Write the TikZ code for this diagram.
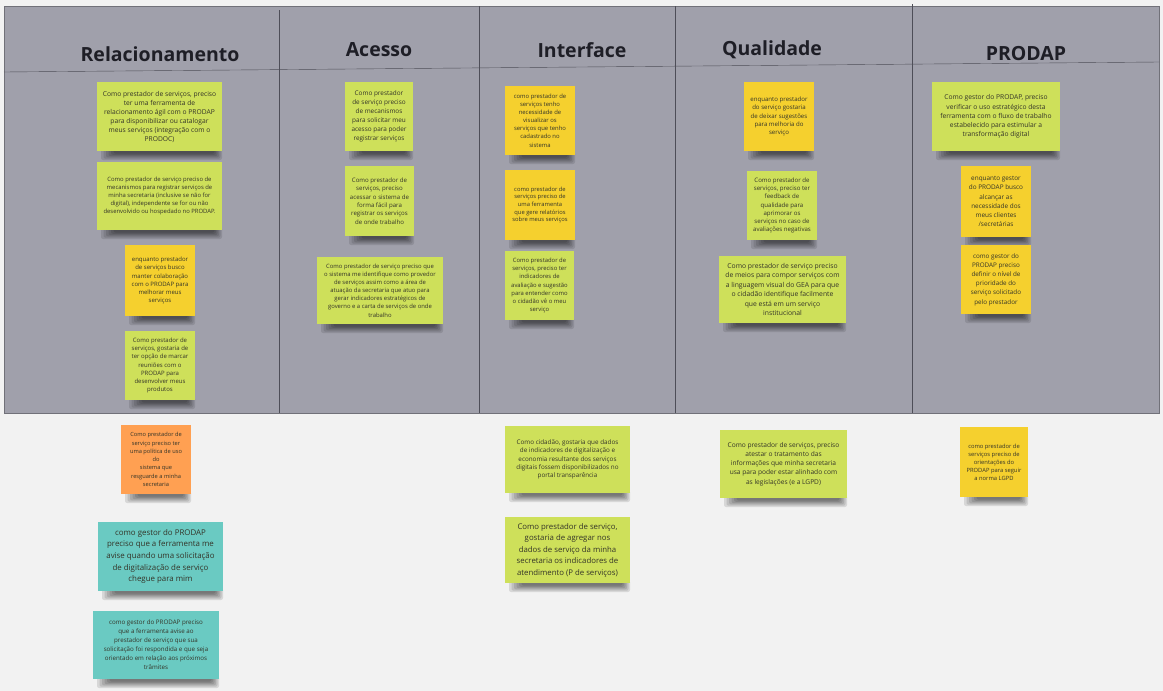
\documentclass[tikz,border=0pt]{standalone}
\usepackage{fontspec}
\setmainfont{Open Sans}
\usepackage{tikz}
\usetikzlibrary{positioning}
\tikzstyle{board} = [x = 1pt, y = -1pt]
\definecolor{boardColor}{RGB}{242,242,242}
\definecolor{panelColor}{RGB}{160,160,171}
\definecolor{gridColor}{RGB}{78,78,88}
\definecolor{titleColor}{RGB}{30,30,38}
\definecolor{noteText}{RGB}{52,52,40}
\definecolor{noteGreen}{RGB}{206,224,90}
\definecolor{noteYellow}{RGB}{245,208,46}
\definecolor{noteOrange}{RGB}{255,160,82}
\definecolor{noteTeal}{RGB}{106,202,194}
\tikzstyle{panelStyle} = [fill=panelColor, draw=gridColor!80, thin]
\tikzstyle{gridLine} = [color=gridColor, thin]
\tikzstyle{columnTitle} = [font=\bfseries\fontsize{19.5}{22}\selectfont, text=titleColor]
\tikzstyle{noteStyle} = [inner sep = 0pt, align = center, text = noteText]
\tikzstyle{shadowStyle} = [fill=black, opacity=0.11]
\newcommand{\stickyShadow}[3]{
  \foreach \s in {0,...,5} {
    \fill [shadowStyle, rounded corners = 2pt] (#1 + 4 + \s * 2.5, #3 - 3) rectangle (#2 - \s * 1.5, #3 + 9 - \s * 1.3);
  }
}
\newcommand{\stickyNote}[9]{
  \stickyShadow{#3}{#5}{#6}
  \node [noteStyle, fill = #2, minimum width = {(#5 - #3) * 1pt}, minimum height = {(#6 - #4) * 1pt}, font = \fontsize{#7}{#8}\selectfont] (#1) at ({(#3 + #5) / 2}, {(#4 + #6) / 2}) {#9};
}
\newcommand{\columnDivider}[2]{\draw [gridLine] (#1, #2) -- (#1, 413);}

\begin{document}
\begin{tikzpicture}[board]
            \useasboundingbox (0,0) rectangle (1163,691);
            \fill [boardColor] (0,0) rectangle (1163,691);
            \filldraw [panelStyle] (4,6) rectangle (1159,413);
            \draw [gridLine] (4,72) -- (1159,62);
            \foreach \x/\top in {279/10, 479/6, 675/6, 912/4} {
              \columnDivider{\x}{\top}
            }

            \node [columnTitle] (titleRelacionamento) at (160,54) {Relacionamento};
            \node [columnTitle] (titleAcesso) at (379,50) {Acesso};
            \node [columnTitle] (titleInterface) at (582,50) {Interface};
            \node [columnTitle] (titleQualidade) at (772,50) {Qualidade};
            \node [columnTitle] (titleProdap) at (1026,54) {PRODAP};

            \stickyNote{relacionamentoA}{noteGreen}{97}{82}{222}{151}{6.7}{9}{Como prestador de serviços, preciso\\ter uma ferramenta de\\relacionamento ágil com o PRODAP\\para disponibilizar ou catalogar\\meus serviços (integração com o\\PRODOC)}
            \stickyNote{relacionamentoB}{noteGreen}{97}{162}{222}{230}{5.9}{8.2}{Como prestador de serviço preciso de\\mecanismos para registrar serviços de\\minha secretaria (inclusive se não for\\digital), independente se for ou não\\desenvolvido ou hospedado no PRODAP.}
            \stickyNote{relacionamentoC}{noteYellow}{125}{245}{195}{316}{6}{8.1}{enquanto prestador\\de serviços busco\\manter colaboração\\com o PRODAP para\\melhorar meus\\serviços}
            \stickyNote{relacionamentoD}{noteGreen}{125}{331}{195}{400}{6}{8.2}{Como prestador de\\serviços, gostaria de\\ter opção de marcar\\reuniões com o\\PRODAP para\\desenvolver meus\\produtos}
            \stickyNote{relacionamentoE}{noteOrange}{121}{425}{191}{494}{5.7}{8.3}{Como prestador de\\serviço preciso ter\\uma política de uso\\do\\sistema que\\resguarde a minha\\secretaria}
            \stickyNote{relacionamentoF}{noteTeal}{98}{522}{223}{591}{7.9}{11.6}{como gestor do PRODAP\\preciso que a ferramenta me\\avise quando uma solicitação\\de digitalização de serviço\\chegue para mim}
            \stickyNote{relacionamentoG}{noteTeal}{93}{611}{219}{679}{6.2}{9}{como gestor do PRODAP preciso\\que a ferramenta avise ao\\prestador de serviço que sua\\solicitação foi respondida e que seja\\orientado em relação aos próximos\\trâmites}

            \stickyNote{acessoA}{noteGreen}{345}{82}{413}{151}{6.4}{9.1}{Como prestador\\de serviço preciso\\de mecanismos\\para solicitar meu\\acesso para poder\\registrar serviços}
            \stickyNote{acessoB}{noteGreen}{345}{166}{414}{236}{6.1}{8.4}{Como prestador de\\serviços, preciso\\acessar o sistema de\\forma fácil para\\registrar os serviços\\de onde trabalho}
            \stickyNote{acessoC}{noteGreen}{317}{257}{443}{324}{5.9}{8.1}{Como prestador de serviço preciso que\\o sistema me identifique como provedor\\de serviços assim como a área de\\atuação da secretaria que atuo para\\gerar indicadores estratégicos  de\\governo e a carta de serviços de onde\\trabalho}

            \stickyNote{interfaceA}{noteYellow}{505}{86}{575}{155}{5.9}{8.1}{como prestador de\\serviços tenho\\necessidade de\\visualizar os\\serviços que tenho\\cadastrado no\\sistema}
            \stickyNote{interfaceB}{noteYellow}{505}{170}{575}{240}{5.8}{7.6}{como prestador de\\serviços preciso de\\uma ferramenta\\que gere relatórios\\sobre meus serviços}
            \stickyNote{interfaceC}{noteGreen}{505}{251}{574}{320}{5.9}{8.3}{Como prestador de\\serviços, preciso ter\\indicadores de\\avaliação e sugestão\\para entender como\\o cidadão vê o meu\\serviço}
            \stickyNote{interfaceD}{noteGreen}{505}{426}{630}{493}{6.3}{8.3}{Como cidadão, gostaria que dados\\de indicadores de digitalização e\\economia resultante dos serviços\\digitais fossem disponibilizados no\\portal transparência}
            \stickyNote{interfaceE}{noteGreen}{505}{517}{630}{583}{7.8}{11.5}{Como prestador de serviço,\\gostaria de agregar nos\\dados de serviço da minha\\secretaria os indicadores de\\atendimento (P de serviços)}

            \stickyNote{qualidadeA}{noteYellow}{744}{82}{814}{151}{6.1}{8.1}{enquanto prestador\\do serviço gostaria\\de deixar sugestões\\para melhoria do\\serviço}
            \stickyNote{qualidadeB}{noteGreen}{747}{171}{817}{240}{6.1}{8.2}{Como prestador de\\serviços, preciso ter\\feedback de\\qualidade para\\aprimorar os\\serviços no caso de\\avaliações negativas}
            \stickyNote{qualidadeC}{noteGreen}{719}{256}{846}{323}{6.8}{9.4}{Como prestador de serviço preciso\\de meios para compor serviços com\\a linguagem visual do GEA para que\\o cidadão identifique facilmente\\que está em um serviço\\institucional}
            \stickyNote{qualidadeD}{noteGreen}{720}{430}{847}{498}{6.6}{9.2}{Como prestador de serviços, preciso\\atestar o tratamento das\\informações que minha secretaria\\usa para poder estar alinhado com\\as legislações (e a LGPD)}

            \stickyNote{prodapA}{noteGreen}{932}{82}{1060}{151}{6.7}{9.2}{Como gestor do PRODAP, preciso\\verificar o uso estratégico desta\\ferramenta com o fluxo de trabalho\\estabelecido para estimular a\\transformação digital}
            \stickyNote{prodapB}{noteYellow}{961}{166}{1031}{237}{6.4}{9.1}{enquanto gestor\\do PRODAP busco\\alcançar as\\necessidade dos\\meus clientes\\/secretárias}
            \stickyNote{prodapC}{noteYellow}{961}{245}{1031}{314}{6.3}{9.2}{como gestor do\\PRODAP preciso\\definir o nível de\\prioridade do\\serviço solicitado\\pelo prestador}
            \stickyNote{prodapD}{noteYellow}{960}{427}{1028}{497}{5.8}{8}{como prestador de\\serviços preciso de\\orientações do\\PRODAP para seguir\\a norma LGPD}
          \end{tikzpicture}
\end{document}
